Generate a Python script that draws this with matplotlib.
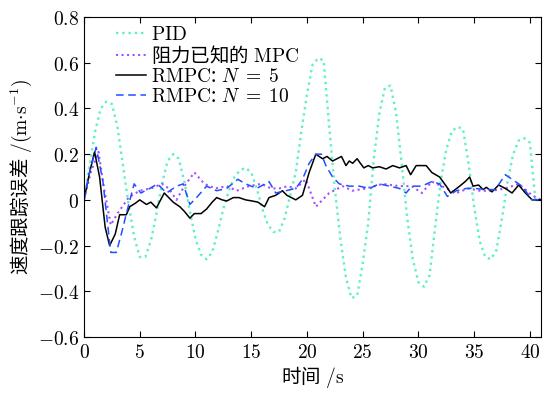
import matplotlib
matplotlib.use("Agg")
import matplotlib.pyplot as plt
from matplotlib.ticker import FuncFormatter

plt.rcParams['font.family'] = ['Noto Sans CJK SC', 'DejaVu Sans']
plt.rcParams['mathtext.fontset'] = 'cm'

# PID, sampled every 0.5 s
t_pid = [i * 0.5 for i in range(82)]
pid = [0, 0.15, 0.30, 0.40, 0.43, 0.42, 0.32, 0.15, -0.02, -0.16,
       -0.25, -0.25, -0.18, -0.06, 0.07, 0.17, 0.20, 0.18, 0.08, -0.05,
       -0.17, -0.24, -0.26, -0.23, -0.14, -0.04, 0.04, 0.10, 0.13, 0.14,
       0.12, 0.05, -0.04, -0.11, -0.14, -0.14, -0.08, 0.02, 0.12, 0.30,
       0.46, 0.59, 0.62, 0.61, 0.32, 0.05, -0.17, -0.34, -0.43, -0.42,
       -0.28, -0.10, 0.18, 0.38, 0.49, 0.50, 0.38, 0.16, -0.08, -0.26,
       -0.36, -0.38, -0.33, -0.12, 0.08, 0.22, 0.30, 0.32, 0.31, 0.16,
       -0.03, -0.18, -0.25, -0.26, -0.22, -0.08, 0.08, 0.20, 0.26, 0.27,
       0.25, 0.0]

t_mpc = [0, 0.6, 1.3, 1.8, 2.4, 3.0, 4.0, 5.0, 6.0, 7.0, 7.6, 8.3, 9.0, 9.9,
         10.8, 11.8, 12.8, 13.7, 14.8, 15.9, 16.8, 17.5, 18.3, 19.0, 19.9,
         20.8, 22.0, 23.2, 24.1, 25.3, 26.8, 28.3, 29.4, 30.3, 31.2, 32.1,
         33.4, 34.5, 35.5, 36.6, 37.8, 39.0, 40.2, 41.0]
mpc = [0, 0.12, 0.21, 0.05, -0.11, -0.06, 0.01, 0.04, 0.05, 0.07, 0.05, 0.0,
       0.06, 0.12, 0.07, 0.05, 0.06, 0.04, 0.06, 0.07, 0.05, 0.05, 0.06, 0.05,
       0.09, -0.03, 0.03, 0.06, 0.04, 0.05, 0.07, 0.06, 0.06, 0.03, 0.08, 0.06,
       0.03, 0.05, 0.04, 0.04, 0.05, 0.07, 0.02, 0.0]

t_n5 = [0, 0.5, 0.95, 1.4, 1.9, 2.3, 2.8, 3.2, 3.8, 4.1, 4.6, 5.0, 5.6, 6.0,
        6.5, 7.2, 7.6, 8.0, 8.6, 9.0, 9.5, 9.9, 10.5, 11.0, 11.5, 11.9, 12.4,
        12.8, 13.4, 13.9, 14.5, 15.1, 15.6, 16.2, 16.6, 17.2, 17.8, 18.2,
        19.0, 19.6, 20.2, 20.8, 21.4, 21.8, 22.3, 22.7, 23.1, 23.5, 23.8,
        24.1, 24.5, 25.1, 25.5, 25.9, 26.5, 27.1, 27.7, 28.3, 28.9, 29.3,
        29.8, 30.7, 31.2, 31.9, 32.5, 32.9, 33.7, 34.2, 34.6, 34.9, 35.4,
        35.8, 36.1, 36.6, 37.2, 37.8, 38.4, 39.0, 39.6, 40.2, 41.0]
n5 = [0, 0.12, 0.21, 0.10, -0.12, -0.20, -0.15, -0.065, -0.065, -0.03,
      -0.015, 0.0, -0.02, -0.01, -0.035, 0.03, 0.01, -0.01, -0.03, -0.05,
      -0.08, -0.06, -0.06, -0.04, -0.01, 0.01, 0.0, -0.005, 0.01, 0.01,
      0.0, -0.005, -0.01, -0.03, 0.01, 0.02, 0.04, 0.02, 0.0, 0.02, 0.12,
      0.20, 0.18, 0.19, 0.17, 0.18, 0.19, 0.15, 0.17, 0.16, 0.18, 0.14,
      0.15, 0.14, 0.145, 0.135, 0.15, 0.14, 0.15, 0.11, 0.15, 0.15, 0.12,
      0.10, 0.06, 0.03, 0.06, 0.08, 0.10, 0.06, 0.065, 0.045, 0.055, 0.035,
      0.065, 0.05, 0.03, 0.065, 0.03, 0.0, 0.0]

t_n10 = [0, 0.5, 1.1, 1.7, 2.4, 2.9, 3.4, 3.8, 4.5, 5.1, 5.9, 6.6, 7.4, 8.3,
         8.9, 9.5, 10.1, 11.0, 11.9, 12.8, 13.8, 14.5, 15.5, 16.6, 17.2,
         18.1, 19.0, 19.6, 20.2, 20.8, 21.3, 21.7, 22.3, 22.9, 23.8, 24.7,
         25.6, 26.5, 27.4, 28.3, 28.9, 29.4, 30.3, 31.2, 31.9, 32.6, 33.4,
         34.3, 35.1, 36.0, 36.9, 37.8, 38.4, 39.3, 40.2, 41.0]
n10 = [0, 0.12, 0.23, 0.08, -0.23, -0.23, -0.14, -0.06, 0.07, 0.03, 0.05,
       0.07, 0.03, 0.06, 0.07, -0.02, 0.01, 0.06, 0.04, 0.05, 0.09, 0.07,
       0.05, 0.08, 0.03, 0.04, 0.05, 0.09, 0.16, 0.20, 0.20, 0.15, 0.10,
       0.07, 0.06, 0.06, 0.05, 0.07, 0.06, 0.05, 0.03, 0.06, 0.06, 0.08,
       0.07, 0.015, 0.04, 0.05, 0.05, 0.045, 0.045, 0.11, 0.09, 0.06, 0.0,
       0.0]

fig = plt.figure(figsize=(5.44, 3.96), dpi=100)
ax = fig.add_axes([0.1544, 0.149, 0.8401, 0.808])

ax.plot(t_pid, pid, ':', color='#5ef0c8', lw=1.7, label=r'$\mathrm{PID}$')
ax.plot(t_mpc, mpc, ':', color='#a64dff', lw=1.5,
        label='阻力已知的$\\ \\mathrm{MPC}$')
ax.plot(t_n5, n5, '-', color='black', lw=1.1,
        label='$\\mathrm{RMPC}$:$\\ N\\;=\\;5$')
ax.plot(t_n10, n10, '--', color='#2050ff', lw=1.1, dashes=(5, 3),
        label='$\\mathrm{RMPC}$:$\\ N\\;=\\;10$')

ax.set_xlim(0, 41)
ax.set_ylim(-0.6, 0.8)
ax.set_xticks(range(0, 41, 5))
ax.set_yticks([-0.6, -0.4, -0.2, 0, 0.2, 0.4, 0.6, 0.8])


def fmt(v, pos):
    s = '%g' % round(v, 2)
    return '$' + s + '$'


ax.xaxis.set_major_formatter(FuncFormatter(fmt))
ax.yaxis.set_major_formatter(FuncFormatter(fmt))
ax.tick_params(direction='in', top=True, right=True, length=4, labelsize=14)

ax.set_xlabel('时间$\\ /\\mathrm{s}$', fontsize=14, labelpad=1)
ax.set_ylabel('速度跟踪误差$\\ /(\\mathrm{m{\\cdot}s^{-1}})$', fontsize=14,
              labelpad=3)

ax.legend(loc='upper left', frameon=False, fontsize=14, handlelength=1.55,
          labelspacing=-0.05, borderaxespad=0.2, handletextpad=0.25,
          bbox_to_anchor=(0.045, 1.015))

fig.savefig('out.png', dpi=100)
